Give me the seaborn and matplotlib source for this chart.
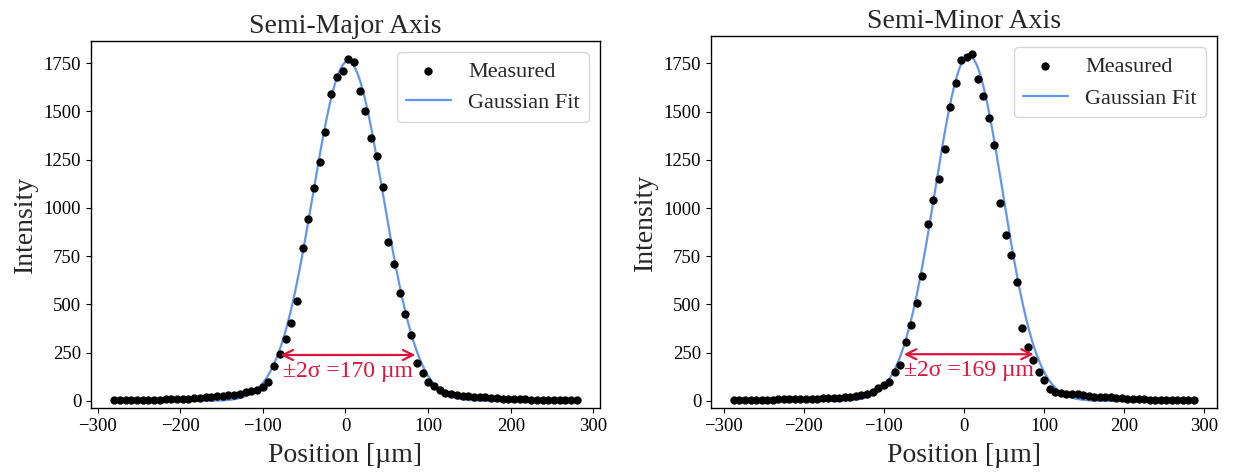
import numpy as np
import pandas as pd
import seaborn as sns
import matplotlib.pyplot as plt

# =========================
# DATA
# =========================

# semi-major axis: 82 samples between -280 and 280 um
pos_major = np.linspace(-280, 280, 82)
int_major = [5, 4, 5, 5, 5, 6, 6, 7, 7, 8, 9, 10,
             11, 12, 14, 16, 19, 22, 25, 28, 30, 33, 36, 44, 50, 58,
             72, 97, 183, 241, 321, 403, 519, 791, 941, 1103, 1240, 1395,
             1590, 1681, 1710, 1772, 1755, 1605, 1503, 1365, 1271, 1110,
             824, 709, 560, 453, 343, 198, 145, 98, 76, 55, 42, 35, 30,
             27, 25, 22, 20, 18, 16, 14, 12, 11, 10, 9, 8, 7, 7, 6, 6, 6,
             5, 5, 5, 5]

# semi-minor axis: 84 samples between -287 and 287 um
pos_minor = np.linspace(-287, 287, 84)
int_minor = [5, 4, 5, 5, 5, 6, 7, 7, 8, 11, 9, 9, 9, 10, 10, 10, 13, 17,
             16, 17, 19, 21, 24, 31, 38, 45, 66, 83, 100, 151, 187, 308,
             393, 506, 646, 915, 1041, 1150, 1306, 1526, 1648, 1767, 1781,
             1800, 1670, 1578, 1469, 1329, 1026, 859, 754, 619, 379, 282,
             212, 149, 109, 64, 45, 42, 38, 35, 38, 31, 28, 21, 21, 21,
             19, 16, 14, 12, 10, 9, 8, 7, 7, 6, 6, 5, 5, 5, 4, 5]

# gaussian fit parameters: amplitude, centre, sigma
fit_major = (1760, 3.0, 42.5)
fit_minor = (1790, 6.0, 42.25)

titulos = ['Semi-Major Axis', 'Semi-Minor Axis']
larguras = ['170', '169']

# =========================
# ESTILO
# =========================

sns.set_theme(style='ticks')
plt.rcParams['font.family'] = ['Liberation Serif', 'DejaVu Serif']
plt.rcParams['axes.edgecolor'] = 'black'
plt.rcParams['xtick.color'] = 'black'
plt.rcParams['ytick.color'] = 'black'
plt.rcParams['axes.linewidth'] = 1.0

fig = plt.figure(figsize=(12.33, 4.73), dpi=100)
ax1 = fig.add_axes([0.0738, 0.1368, 0.4128, 0.7765])
ax2 = fig.add_axes([0.5766, 0.1368, 0.4104, 0.7865])

vermelho = '#DC143C'
azul = '#6495ED'

for ax, pos, inten, fit, titulo, larg, ytop in zip(
        [ax1, ax2], [pos_major, pos_minor], [int_major, int_minor],
        [fit_major, fit_minor], titulos, larguras, [1865, 1890]):

    dados = pd.DataFrame({'pos': pos, 'int': inten})
    amp, cen, sig = fit
    xf = np.linspace(pos.min(), pos.max(), 500)
    curva = pd.DataFrame({'pos': xf,
                          'int': amp * np.exp(-(xf - cen) ** 2 / (2 * sig ** 2))})

    sns.scatterplot(data=dados, x='pos', y='int', ax=ax, color='black',
                    s=36, linewidth=0, label='Measured', zorder=3)
    sns.lineplot(data=curva, x='pos', y='int', ax=ax, color=azul,
                 linewidth=1.6, label='Gaussian Fit', zorder=2)

    # seta de +-2 sigma
    ya = amp * np.exp(-2)
    ax.annotate('', xy=(cen + 2 * sig, ya), xytext=(cen - 2 * sig, ya),
                arrowprops=dict(arrowstyle='<->', color=vermelho, lw=1.6,
                                mutation_scale=18))
    ax.text(cen, ya - 30, '±2σ =' + larg + ' µm', color=vermelho,
            fontsize=17, ha='center', va='top')

    ax.set_title(titulo, fontsize=20)
    ax.set_xlabel('Position [µm]', fontsize=20, labelpad=6)
    ax.set_ylabel('Intensity', fontsize=20)
    ax.set_xticks([-300, -200, -100, 0, 100, 200, 300])
    ax.set_yticks([0, 250, 500, 750, 1000, 1250, 1500, 1750])
    ax.set_ylim(-38, ytop)
    ax.tick_params(labelsize=13.5, length=3.5, width=0.8)
    ax.legend(loc='upper right', fontsize=16, frameon=True)

plt.savefig('out.png', dpi=100)
